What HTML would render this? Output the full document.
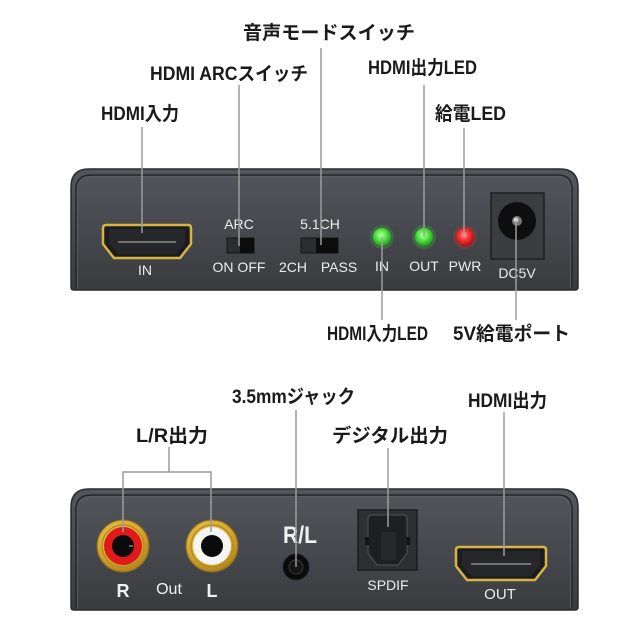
<!DOCTYPE html>
<html><head><meta charset="utf-8"><style>
html,body{margin:0;padding:0;background:#fff;}
svg{display:block;}
.lab{font-family:"Liberation Sans","Noto Sans CJK JP",sans-serif;font-weight:bold;fill:#1a1a1a;font-size:19px;}
.dev{font-family:"Liberation Sans",sans-serif;fill:#ececec;font-size:14px;}
</style></head><body>
<svg width="640" height="640" viewBox="0 0 640 640" xmlns="http://www.w3.org/2000/svg">
<defs>
<linearGradient id="body" x1="0" y1="0" x2="0" y2="1">
<stop offset="0" stop-color="#53565b"/><stop offset="1" stop-color="#393b3f"/>
</linearGradient>
<radialGradient id="green" cx="0.45" cy="0.4" r="0.6">
<stop offset="0" stop-color="#c8ffb8"/><stop offset="0.4" stop-color="#5ef24a"/><stop offset="1" stop-color="#1f9a1f"/>
</radialGradient>
<radialGradient id="red" cx="0.45" cy="0.4" r="0.6">
<stop offset="0" stop-color="#ffb0b0"/><stop offset="0.4" stop-color="#ff3a3a"/><stop offset="1" stop-color="#b80c0c"/>
</radialGradient>
<radialGradient id="gold" cx="0.45" cy="0.4" r="0.6">
<stop offset="0" stop-color="#f6dc7a"/><stop offset="0.7" stop-color="#d9ac30"/><stop offset="1" stop-color="#a9801c"/>
</radialGradient>
</defs>

<!-- TOP BOX -->
<path d="M71 287 V187 Q71 169 89 169 H560 Q578 169 578 187 V287 Q578 290 575 290 H74 Q71 290 71 287 Z" fill="url(#body)" stroke="#2a2b2f" stroke-width="1.5"/>
<path d="M76 288 V190 Q76 175 91 175 H558 Q572 175 572 190 V288" fill="none" stroke="#26272b" stroke-width="1.5"/>
<path d="M77.5 288 V191 Q77.5 176.5 92 176.5 H557 Q570.5 176.5 570.5 191 V288" fill="none" stroke="#5e6167" stroke-width="0.8"/>

<!-- HDMI IN -->
<path d="M106 225 H188 Q191 225 191 228 V244 L180 258 H114 L103 244 V228 Q103 225 106 225 Z" fill="#1c1c1e" stroke="#d9b445" stroke-width="2.5"/>
<path d="M109 229 H185 V243 L176 254 H118 L109 243 Z" fill="#26272a"/>
<line x1="118" y1="242" x2="176" y2="242" stroke="#8a8a8a" stroke-width="1.5"/>
<text class="dev" x="145" y="275" text-anchor="middle">IN</text>

<!-- ARC switch -->
<text class="dev" x="239" y="229" text-anchor="middle">ARC</text>
<rect x="227" y="238" width="27" height="15" fill="#2c2d30" stroke="#151515" stroke-width="1"/>
<rect x="240" y="238" width="14" height="15" fill="#0c0c0c"/>
<text class="dev" x="239" y="272" text-anchor="middle">ON OFF</text>

<!-- 5.1CH switch -->
<text class="dev" x="320" y="229" text-anchor="middle">5.1CH</text>
<rect x="301" y="238" width="37" height="15" fill="#2c2d30" stroke="#151515" stroke-width="1"/>
<rect x="316" y="238" width="22" height="15" fill="#0c0c0c"/>
<text class="dev" x="293" y="272" text-anchor="middle">2CH</text>
<text class="dev" x="339" y="272" text-anchor="middle">PASS</text>

<!-- LEDs -->
<circle cx="382" cy="237" r="12" fill="#3cff3c" opacity="0.18"/>
<circle cx="382" cy="237" r="9" fill="url(#green)"/>
<circle cx="424" cy="237" r="12" fill="#3cff3c" opacity="0.18"/>
<circle cx="424" cy="237" r="9" fill="url(#green)"/>
<circle cx="465" cy="237" r="12" fill="#ff3030" opacity="0.2"/>
<circle cx="465" cy="237" r="9" fill="url(#red)"/>
<text class="dev" x="382" y="271" text-anchor="middle">IN</text>
<text class="dev" x="424" y="271" text-anchor="middle">OUT</text>
<text class="dev" x="465" y="271" text-anchor="middle">PWR</text>

<!-- DC jack -->
<rect x="491" y="193" width="53" height="66" fill="#3a3c40" stroke="#1e1f22" stroke-width="1.5"/>
<circle cx="517" cy="221" r="19" fill="#0e0e0f"/>
<circle cx="517" cy="221" r="5" fill="#777"/>
<circle cx="516" cy="220" r="2.5" fill="#cfcfcf"/>
<text class="dev" x="517" y="278" text-anchor="middle">DC5V</text>

<!-- top connectors -->
<g stroke="#9c9c9c" stroke-width="1.5" fill="none">
<line x1="142" y1="127" x2="142" y2="233"/>
<line x1="239" y1="85" x2="239" y2="246"/>
<line x1="321" y1="48" x2="321" y2="245"/>
<line x1="424" y1="85" x2="424" y2="237"/>
<line x1="464" y1="128" x2="464" y2="237"/>
<line x1="382" y1="237" x2="382" y2="320"/>
<line x1="516" y1="221" x2="516" y2="320"/>
</g>

<!-- top labels -->
<text class="lab" x="243" y="39" textLength="172" lengthAdjust="spacingAndGlyphs">音声モードスイッチ</text>
<text class="lab" x="150" y="80" textLength="158" lengthAdjust="spacingAndGlyphs">HDMI ARCスイッチ</text>
<text class="lab" x="101" y="120" textLength="78" lengthAdjust="spacingAndGlyphs">HDMI入力</text>
<text class="lab" x="368" y="74" textLength="109" lengthAdjust="spacingAndGlyphs">HDMI出力LED</text>
<text class="lab" x="435" y="120" textLength="71" lengthAdjust="spacingAndGlyphs">給電LED</text>
<text class="lab" x="327" y="340" textLength="101" lengthAdjust="spacingAndGlyphs">HDMI入力LED</text>
<text class="lab" x="453" y="340" textLength="117" lengthAdjust="spacingAndGlyphs">5V給電ポート</text>

<!-- BOTTOM BOX -->
<path d="M71 607 V507 Q71 489 89 489 H560 Q578 489 578 507 V607 Q578 610 575 610 H74 Q71 610 71 607 Z" fill="url(#body)" stroke="#2a2b2f" stroke-width="1.5"/>
<path d="M76 608 V510 Q76 495 91 495 H558 Q572 495 572 510 V608" fill="none" stroke="#26272b" stroke-width="1.5"/>
<path d="M77.5 608 V511 Q77.5 496.5 92 496.5 H557 Q570.5 496.5 570.5 511 V608" fill="none" stroke="#5e6167" stroke-width="0.8"/>

<!-- RCA R -->
<circle cx="123" cy="546" r="26" fill="url(#gold)" stroke="#8a6a1a" stroke-width="1"/>
<circle cx="123" cy="546" r="21" fill="none" stroke="#b68a22" stroke-width="1.5"/>
<circle cx="123" cy="546" r="19" fill="#e0191b"/>
<circle cx="123" cy="546" r="11" fill="#0b0b0b"/>
<line x1="129" y1="546" x2="133" y2="546" stroke="#bbb" stroke-width="1"/>
<!-- RCA L -->
<circle cx="212" cy="546" r="26" fill="url(#gold)" stroke="#8a6a1a" stroke-width="1"/>
<circle cx="212" cy="546" r="21" fill="none" stroke="#b68a22" stroke-width="1.5"/>
<circle cx="212" cy="546" r="19" fill="#f5f5f3"/>
<circle cx="212" cy="546" r="11" fill="#0b0b0b"/>
<text x="123" y="597" text-anchor="middle" style="font-family:'Liberation Sans',sans-serif;font-weight:bold;font-size:18px;fill:#f0f0f0">R</text>
<text x="169" y="594" text-anchor="middle" style="font-family:'Liberation Sans',sans-serif;font-size:16px;fill:#f0f0f0">Out</text>
<text x="212" y="597" text-anchor="middle" style="font-family:'Liberation Sans',sans-serif;font-weight:bold;font-size:18px;fill:#f0f0f0">L</text>

<!-- 3.5mm -->
<text x="300" y="543" text-anchor="middle" textLength="34" lengthAdjust="spacingAndGlyphs" style="font-family:'Liberation Sans',sans-serif;font-weight:bold;font-size:24px;fill:#f0f0f0">R/L</text>
<circle cx="296" cy="567" r="13" fill="#0b0b0c" stroke="#222" stroke-width="1"/>
<circle cx="296" cy="567" r="7" fill="#151516" stroke="#3a3a3a" stroke-width="1"/>

<!-- SPDIF -->
<rect x="358" y="510" width="59" height="60" fill="#2d2f33" stroke="#1c1d20" stroke-width="1.5"/>
<path d="M372 515 H403 Q407 515 407 519 V553 L398 565 H377 L368 553 V519 Q368 515 372 515 Z" fill="#1e1f22" stroke="#4a4c51" stroke-width="1.2"/>
<rect x="381" y="532" width="15" height="28" fill="#27282b"/>
<rect x="365" y="537" width="4" height="8" fill="#151517"/>
<rect x="406" y="537" width="4" height="8" fill="#151517"/>
<text class="dev" x="388" y="590" text-anchor="middle" style="font-size:14px">SPDIF</text>

<!-- HDMI OUT -->
<path d="M459 547 H543 Q546 547 546 550 V566 L535 580 H467 L456 566 V550 Q456 547 459 547 Z" fill="#1c1c1e" stroke="#d9b445" stroke-width="2.5"/>
<path d="M462 551 H540 V565 L531 576 H471 L462 565 Z" fill="#26272a"/>
<line x1="471" y1="564" x2="531" y2="564" stroke="#8a8a8a" stroke-width="1.5"/>
<text class="dev" x="500" y="599" text-anchor="middle" style="font-size:15px">OUT</text>

<!-- bottom connectors -->
<g stroke="#9c9c9c" stroke-width="1.5" fill="none">
<line x1="169" y1="447" x2="169" y2="472"/>
<polyline points="123,532 123,472 211,472 211,532"/>
<line x1="296" y1="410" x2="296" y2="567"/>
<line x1="388" y1="448" x2="388" y2="527"/>
<line x1="504" y1="412" x2="504" y2="556"/>
</g>

<!-- bottom labels -->
<text class="lab" x="232" y="403" textLength="123" lengthAdjust="spacingAndGlyphs">3.5mmジャック</text>
<text class="lab" x="136" y="442" textLength="72" lengthAdjust="spacingAndGlyphs">L/R出力</text>
<text class="lab" x="332" y="442" textLength="116" lengthAdjust="spacingAndGlyphs">デジタル出力</text>
<text class="lab" x="468" y="407" textLength="79" lengthAdjust="spacingAndGlyphs">HDMI出力</text>
</svg>
</body></html>
